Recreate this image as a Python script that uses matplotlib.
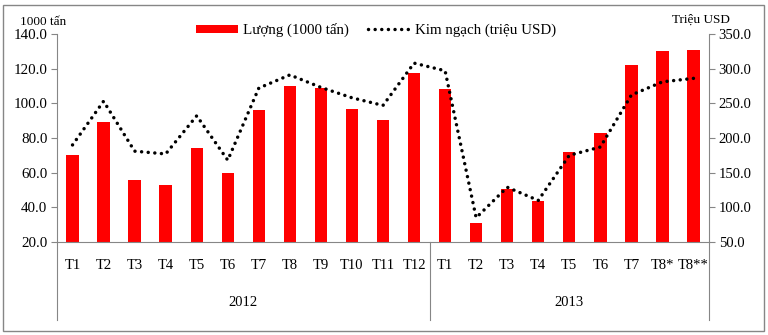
"""Monthly volume (bars) and value (dotted line), 2012-2013."""
import matplotlib
matplotlib.use("Agg")
import matplotlib.pyplot as plt
import matplotlib.transforms as mtransforms
from matplotlib.patches import Rectangle
import numpy as np

plt.rcParams['font.family'] = ['Liberation Serif', 'DejaVu Serif']

months = ["T1", "T2", "T3", "T4", "T5", "T6", "T7", "T8", "T9", "T10", "T11", "T12",
          "T1", "T2", "T3", "T4", "T5", "T6", "T7", "T8*", "T8**"]
years = ["2012", "2013"]
year_lengths = [12, 9]

# volume, thousand tonnes
volume = [70.0, 89.0, 55.5, 53.0, 74.5, 60.0, 96.0, 110.0, 109.0, 96.5, 90.5, 117.5,
          108.5, 31.0, 50.5, 43.5, 72.0, 83.0, 122.0, 130.0, 131.0]
# value, million USD
value = [190.0, 253.0, 181.0, 177.0, 232.0, 168.0, 272.0, 291.0, 273.0, 258.0, 247.0, 308.0,
         297.0, 85.0, 129.0, 110.0, 175.0, 187.0, 262.0, 281.0, 286.0]

AXIS_GRAY = '#868686'

fig = plt.figure(figsize=(7.68, 3.35), dpi=100)
W, H = 768, 335
left, right, top, bottom = 57, 709, 34, 242
ax = fig.add_axes([left / W, 1 - bottom / H, (right - left) / W, (bottom - top) / H])
ax2 = ax.twinx()

x = np.arange(len(months))
ax.bar(x, volume, width=0.4, color='#ff0000', label='Lượng (1000 tấn)', zorder=2)
ax2.plot(x, value, color='black', linewidth=2.5, linestyle=(0, (0.01, 1.9)),
         dash_capstyle='round', label='Kim ngạch (triệu USD)', zorder=3)

ax.set_xlim(-0.5, len(months) - 0.5)
ax.set_ylim(20, 140)
ax.set_yticks(np.arange(20, 141, 20))
ax.set_yticklabels([f"{v:.1f}" for v in np.arange(20, 141, 20)])
ax2.set_ylim(50, 350)
ax2.set_yticks(np.arange(50, 351, 50))
ax2.set_yticklabels([f"{v:.1f}" for v in np.arange(50, 351, 50)])

ax.set_xticks(x)
ax.set_xticklabels(months)
ax.tick_params(axis='x', length=0, pad=12, labelsize=10.5)
ax.tick_params(axis='y', length=4, color=AXIS_GRAY, labelsize=10.8, pad=3)
ax2.tick_params(axis='y', length=4, color=AXIS_GRAY, labelsize=10.5, pad=3)

for a in (ax, ax2):
    a.spines['top'].set_visible(False)
    for s in ('left', 'right', 'bottom'):
        a.spines[s].set_color(AXIS_GRAY)
ax2.spines['left'].set_visible(False)
ax2.spines['bottom'].set_visible(False)
ax.spines['right'].set_visible(False)

# category axis extends down through the year labels
depth = -(320 - bottom) / (bottom - top)
trans = mtransforms.blended_transform_factory(ax.transData, ax.transAxes)
edges = [-0.5]
for n in year_lengths:
    edges.append(edges[-1] + n)
for e in edges:
    ax.plot([e, e], [0, depth], transform=trans, color=AXIS_GRAY,
            linewidth=0.8, clip_on=False, zorder=1)
for i, yr in enumerate(years):
    ax.text((edges[i] + edges[i + 1]) / 2, -(303 - bottom) / (bottom - top), yr,
            transform=trans, ha='center', va='center', fontsize=10.5)

# axis unit captions
fig.text(20 / W, 1 - 22 / H, "1000 tấn", ha='left', va='center', fontsize=9.5)
fig.text(672 / W, 1 - 20 / H, "Triệu USD", ha='left', va='center', fontsize=9.5)

h1, l1 = ax.get_legend_handles_labels()
h2, l2 = ax2.get_legend_handles_labels()
fig.legend(h1 + h2, l1 + l2, loc='center', bbox_to_anchor=(376 / W, 1 - 30 / H),
           ncol=2, frameon=False, fontsize=10.8, handlelength=2.8, handleheight=0.45,
           columnspacing=1.3, handletextpad=0.35)

# outer frame
fig.add_artist(Rectangle((3 / W, 4 / H), 761 / W, 326 / H, transform=fig.transFigure,
                         fill=False, edgecolor=AXIS_GRAY, linewidth=1.0))

fig.savefig("out.png", dpi=100, facecolor='white')
